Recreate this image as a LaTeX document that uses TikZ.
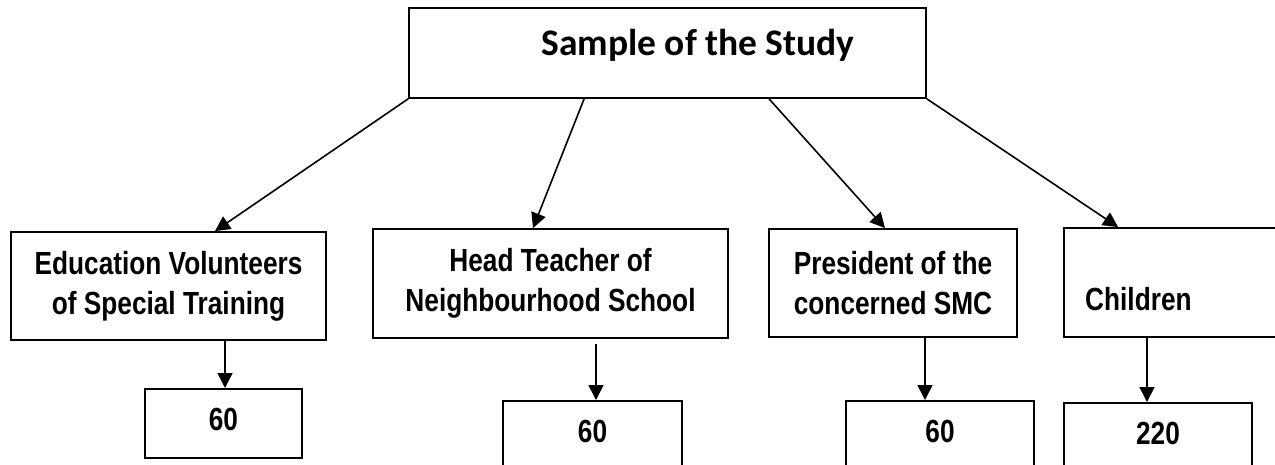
\documentclass[tikz,border=0pt]{standalone}
\usepackage{fontspec}
\setmainfont{Liberation Sans}
\newfontfamily\narrowsans[FakeStretch=0.82]{Liberation Sans}
\newfontfamily\carlitofont{Carlito}
\usetikzlibrary{calc,arrows.meta}
\tikzset{
  box/.style={draw, line width=1.8pt, inner sep=0pt, rectangle,
    font=\narrowsans\bfseries\fontsize{32}{40}\selectfont},
  numbox/.style={box, anchor=north, minimum width=#1, text height=41.5pt, text depth=38.5pt},
  arr/.style={line width=1.6pt, -{Triangle[length=15pt,width=15pt]}},
  lbl/.style={inner sep=0pt, font=\narrowsans\bfseries\fontsize{32}{40}\selectfont}
}
\begin{document}
\begin{tikzpicture}[x=1pt,y=-1pt]
\useasboundingbox (0,0) rectangle (1275,465);
\clip (0,0) rectangle (1275,465);
\fill[white] (0,0) rectangle (1275,465);

% top box
\node[box, minimum width=517pt, minimum height=90pt] (top) at (667.5,53) {};
\node[inner sep=0pt, anchor=base, font=\carlitofont\bfseries\fontsize{37.5}{44}\selectfont] (ttl) at (698,56) {Sample of the Study};

% second row
\node[box, minimum width=315pt, minimum height=108pt, align=center] (b1) at (168.5,286)
  {Education Volunteers\\of Special Training};
\node[box, minimum width=355pt, minimum height=109pt, align=center] (b2) at (550.5,283.5)
  {Head Teacher of\\Neighbourhood School};
\node[box, minimum width=248pt, minimum height=108pt, align=left] (b3) at (893,283)
  {President of the\\concerned SMC};
\node[box, minimum width=236pt, minimum height=109pt] (b4) at (1182,282.5) {};
\node[lbl, anchor=base west] (t4) at (1085,310) {Children};

% number boxes
\node[numbox=157pt, text depth=27.5pt] (n1) at (223.5,388) {60};
\node[numbox=179pt] (n2) at (592.5,400) {60};
\node[numbox=188pt] (n3) at (940,400) {60};
\node[numbox=188pt] (n4) at (1158,402) {220};

% diagonal arrows
\coordinate (s2) at ($(top.south west)+(176,0)$);
\coordinate (s3) at ($(top.south west)+(361,0)$);
\coordinate (e1) at ($(b1.north)+(46.5,0)$);
\coordinate (e2) at ($(b2.north)+(-17.5,0)$);
\coordinate (e3) at ($(b3.north)+(-8,0)$);
\coordinate (e4) at ($(b4.north west)+(55,0)$);
\draw[arr] (top.south west) -- (e1);
\draw[arr] (s2) -- (e2);
\draw[arr] (s3) -- (e3);
\draw[arr] (top.south east) -- (e4);

% vertical arrows
\coordinate (d1) at ($(n1.north)+(1.5,0)$);
\coordinate (d2) at ($(n2.north)+(3.5,0)$);
\coordinate (g2) at ($(b2.south)+(0,5)$);
\coordinate (d3) at ($(n3.north)+(-15,0)$);
\coordinate (d4) at ($(n4.north)+(-11,0)$);
\draw[arr] (d1 |- b1.south) -- (d1);
\draw[arr] (d2 |- g2) -- (d2);
\draw[arr] (d3 |- b3.south) -- (d3);
\draw[arr] (d4 |- b4.south) -- (d4);
\end{tikzpicture}
\end{document}
